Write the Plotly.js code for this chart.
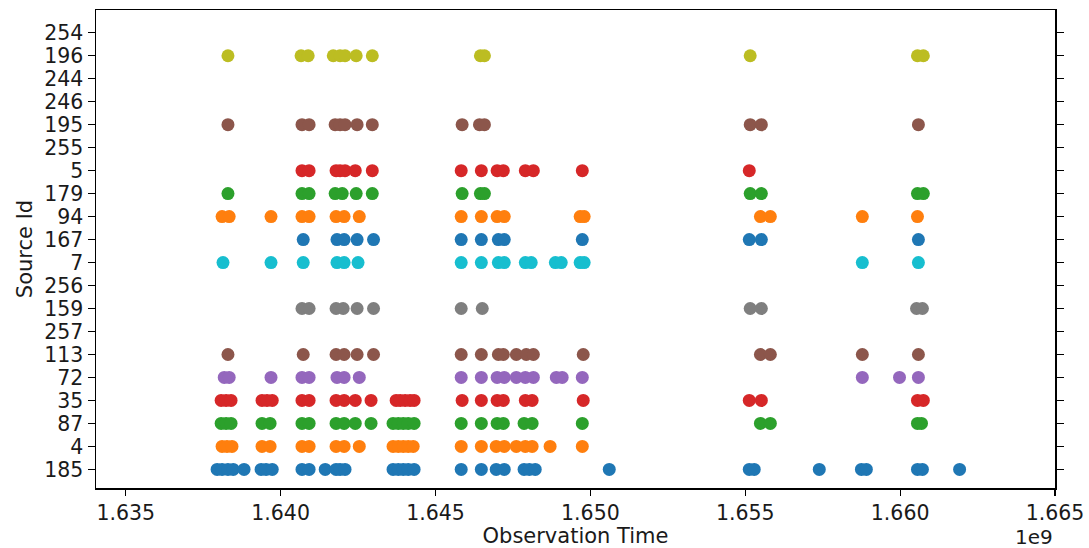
<!DOCTYPE html>
<html>
<head>
<meta charset="utf-8">
<script src="https://cdn.plot.ly/plotly-3.0.1.min.js"></script>
<style>
  html, body { margin: 0; padding: 0; background: #ffffff; }
  #chart { width: 1089px; height: 548px; }
</style>
</head>
<body>
<div id="chart"></div>
<script>
// Source ids in axis order, bottom to top
const sourceIds = ['185', '4', '87', '35', '72', '113', '257', '159', '256', '7',
                   '167', '94', '179', '5', '255', '195', '246', '244', '196', '254'];

// Observation timestamps (epoch seconds) for each source id
const obs185 = [1637950000, 1638110000, 1638300000, 1638470000, 1638820000, 1639370000, 1639530000,
  1639730000, 1640690000, 1640920000, 1641440000, 1641790000, 1641920000, 1642080000, 1643630000,
  1643800000, 1643960000, 1644120000, 1644310000, 1645830000, 1646480000, 1646960000, 1647220000,
  1647860000, 1648030000, 1648220000, 1650610000, 1655130000, 1655290000, 1657390000, 1658750000,
  1658910000, 1660560000, 1660720000, 1661920000];
const obs4 = [1638110000, 1638270000, 1638430000, 1639400000, 1639660000, 1640690000, 1640920000,
  1641790000, 1642050000, 1642540000, 1643630000, 1643800000, 1643960000, 1644120000, 1644280000,
  1645830000, 1646480000, 1646960000, 1647220000, 1647610000, 1647900000, 1648120000, 1648700000,
  1649740000];
const obs87 = [1638080000, 1638240000, 1638400000, 1639400000, 1639660000, 1640690000, 1640920000,
  1641790000, 1642050000, 1642410000, 1642920000, 1643630000, 1643800000, 1643960000, 1644120000,
  1644310000, 1645830000, 1646480000, 1646990000, 1647190000, 1647860000, 1648120000, 1649740000,
  1655490000, 1655810000, 1660560000, 1660690000];
const obs35 = [1638080000, 1638240000, 1638400000, 1639400000, 1639560000, 1639730000, 1640690000,
  1640920000, 1641790000, 1642050000, 1642410000, 1642920000, 1643730000, 1643860000, 1644020000,
  1644180000, 1644310000, 1645860000, 1646480000, 1646990000, 1647190000, 1647900000, 1648120000,
  1649770000, 1655130000, 1655520000, 1660560000, 1660750000];
const obs72 = [1638180000, 1638340000, 1639690000, 1640690000, 1640920000, 1641820000, 1642050000,
  1642540000, 1645830000, 1646480000, 1646990000, 1647220000, 1647610000, 1647900000, 1648160000,
  1648900000, 1649090000, 1649740000, 1658780000, 1659980000, 1660590000];
const obs113 = [1638300000, 1640730000, 1641790000, 1642050000, 1642470000, 1643000000, 1645830000,
  1646480000, 1647030000, 1647190000, 1647610000, 1647930000, 1648160000, 1649770000, 1655490000,
  1655810000, 1658780000, 1660590000];
const obs257 = [];
const obs159 = [1640690000, 1640920000, 1641790000, 1642020000, 1642470000, 1643000000, 1645830000,
  1646510000, 1655160000, 1655520000, 1660530000, 1660720000];
const obs256 = [];
const obs7 = [1638140000, 1639690000, 1640730000, 1641820000, 1642050000, 1642500000, 1645830000,
  1646480000, 1647030000, 1647220000, 1647900000, 1648090000, 1648870000, 1649060000, 1649670000,
  1649800000, 1658780000, 1660590000];
const obs167 = [1640730000, 1641820000, 1642050000, 1642470000, 1643000000, 1645830000, 1646480000,
  1647030000, 1647220000, 1649740000, 1655130000, 1655520000, 1660590000];
const obs94 = [1638110000, 1638340000, 1639690000, 1640690000, 1640920000, 1641790000, 1642050000,
  1642540000, 1645830000, 1646480000, 1646990000, 1647220000, 1649670000, 1649800000, 1655490000,
  1655810000, 1658780000, 1660560000];
const obs179 = [1638300000, 1640690000, 1640920000, 1641760000, 1641990000, 1642440000, 1642960000,
  1645860000, 1646450000, 1646580000, 1655160000, 1655520000, 1660560000, 1660750000];
const obs5 = [1640690000, 1640920000, 1641790000, 1641920000, 1642080000, 1642410000, 1642960000,
  1645830000, 1646480000, 1646990000, 1647190000, 1647900000, 1648160000, 1649740000, 1655130000];
const obs255 = [];
const obs195 = [1638300000, 1640690000, 1640920000, 1641760000, 1641920000, 1642080000, 1642470000,
  1642960000, 1645860000, 1646420000, 1646580000, 1655160000, 1655520000, 1660590000];
const obs246 = [];
const obs244 = [];
const obs196 = [1638300000, 1640660000, 1640890000, 1641700000, 1641920000, 1642080000, 1642440000,
  1642960000, 1646450000, 1646580000, 1655160000, 1660560000, 1660750000];
const obs254 = [];

// X axis ticks, labelled in units of 1e9
const timeTicks = [1635000000, 1640000000, 1645000000, 1650000000, 1655000000, 1660000000, 1665000000];
const timeTickText = ['1.635', '1.640', '1.645', '1.650', '1.655', '1.660', '1.665'];

const seriesTimes = [obs185, obs4, obs87, obs35, obs72, obs113, obs257, obs159, obs256, obs7,
                     obs167, obs94, obs179, obs5, obs255, obs195, obs246, obs244, obs196, obs254];

// tab10 colour cycle, one colour per source in order
const palette = ['#1f77b4', '#ff7f0e', '#2ca02c', '#d62728', '#9467bd',
                 '#8c564b', '#e377c2', '#7f7f7f', '#bcbd22', '#17becf'];

const traces = sourceIds.map((id, i) => ({
  type: 'scatter',
  mode: 'markers',
  x: seriesTimes[i],
  y: seriesTimes[i].map(() => id),
  name: id,
  marker: { color: palette[i % palette.length], size: 13, line: { width: 0 } },
  hoverinfo: 'x+y'
}));

const font = 'DejaVu Sans, Liberation Sans, sans-serif';

const layout = {
  width: 1089,
  height: 548,
  margin: { l: 96, r: 34, t: 10, b: 60 },
  paper_bgcolor: '#ffffff',
  plot_bgcolor: '#ffffff',
  showlegend: false,
  xaxis: {
    range: [1634040000, 1665000000],
    tickmode: 'array',
    tickvals: timeTicks,
    ticktext: timeTickText,
    ticks: 'outside',
    ticklen: 6,
    tickwidth: 1.2,
    tickcolor: '#000',
    showgrid: false,
    zeroline: false,
    showline: true,
    linecolor: '#000',
    linewidth: 1.5,
    mirror: true,
    tickfont: { family: font, size: 20.5, color: '#1a1a1a' },
    title: { text: 'Observation Time', font: { family: font, size: 21, color: '#1a1a1a' }, standoff: 10 }
  },
  yaxis: {
    type: 'category',
    categoryorder: 'array',
    categoryarray: sourceIds,
    tickmode: 'array',
    tickvals: sourceIds,
    ticktext: sourceIds,
    range: [-0.81, 19.99],
    ticks: 'outside',
    ticklen: 7,
    tickwidth: 1.2,
    tickcolor: '#000',
    showgrid: false,
    zeroline: false,
    showline: true,
    linecolor: '#000',
    linewidth: 1.5,
    mirror: 'ticks',
    tickfont: { family: font, size: 20.5, color: '#1a1a1a' },
    title: { text: 'Source Id', font: { family: font, size: 21, color: '#1a1a1a' }, standoff: 6 }
  },
  annotations: [{
    text: '1e9',
    xref: 'paper', yref: 'paper',
    x: 1.0, y: 0, xanchor: 'right', yanchor: 'middle',
    yshift: -49,
    showarrow: false,
    font: { family: font, size: 20, color: '#1a1a1a' }
  }]
};

Plotly.newPlot('chart', traces, layout, { displayModeBar: false, staticPlot: true });
</script>
</body>
</html>
